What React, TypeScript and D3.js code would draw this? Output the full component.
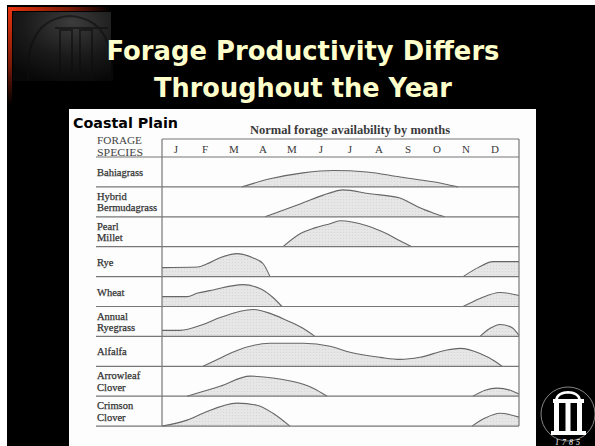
import React from "react";
import * as d3 from "d3";

const titleLines = ["Forage Productivity Differs", "Throughout the Year"];
const regionLabel = "Coastal Plain";
const chartCaption = "Normal forage availability by months";
const headerLines = ["FORAGE", "SPECIES"];
const months = ["J", "F", "M", "A", "M", "J", "J", "A", "S", "O", "N", "D"];
const speciesNames: string[][] = [
  ["Bahiagrass"],
  ["Hybrid", "Bermudagrass"],
  ["Pearl", "Millet"],
  ["Rye"],
  ["Wheat"],
  ["Annual", "Ryegrass"],
  ["Alfalfa"],
  ["Arrowleaf", "Clover"],
  ["Crimson", "Clover"],
];

// [month position (0 = 1 Jan, 12 = 31 Dec), relative availability 0..1]
const bahiagrass: number[][][] = [[[2.69, 0], [3.63, 0.27], [4.74, 0.47], [5.75, 0.55], [6.89, 0.5], [8.0, 0.33], [9.11, 0.17], [9.95, 0]]];
const bermudagrass: number[][][] = [[[3.46, 0], [4.64, 0.43], [5.65, 0.8], [6.08, 0.9], [6.99, 0.77], [8.0, 0.63], [8.34, 0.47], [8.67, 0.3], [9.11, 0.13], [9.51, 0]]];
const pearlMillet: number[][][] = [[[4.07, 0], [4.64, 0.43], [5.14, 0.63], [5.65, 0.77], [5.98, 0.87], [6.89, 0.7], [7.56, 0.43], [8.0, 0.2], [8.4, 0]]];
const rye: number[][][] = [
  [[0, 0.3], [1.2, 0.32], [1.5, 0.42], [1.95, 0.63], [2.52, 0.77], [3.05, 0.63], [3.4, 0.43], [3.63, 0]],
  [[10.12, 0], [10.62, 0.3], [11.13, 0.5], [11.5, 0.5], [12, 0.5]],
];
const wheat: number[][][] = [
  [[0, 0.33], [0.84, 0.33], [1.2, 0.45], [1.61, 0.53], [2.72, 0.73], [3.29, 0.6], [3.73, 0.3], [4.03, 0]],
  [[10.12, 0], [10.69, 0.27], [11.36, 0.47], [12, 0.37]],
];
const annualRyegrass: number[][][] = [
  [[0, 0.2], [0.6, 0.2], [1.38, 0.4], [1.95, 0.63], [3.06, 0.9], [3.63, 0.77], [4.2, 0.53], [4.74, 0.27], [5.14, 0]],
  [[10.69, 0], [11.03, 0.27], [11.36, 0.4], [11.76, 0.3], [12, 0.03]],
];
const alfalfa: number[][][] = [[[1.38, 0], [1.95, 0.27], [2.52, 0.53], [3.63, 0.77], [4.74, 0.77], [5.65, 0.67], [6.32, 0.47], [7.33, 0.3], [8.0, 0.23], [8.67, 0.3], [9.51, 0.53], [10.02, 0.6], [10.69, 0.43], [11.19, 0.17], [11.43, 0]]];
const arrowleafClover: number[][][] = [
  [[0.84, 0], [1.95, 0.33], [2.96, 0.67], [3.8, 0.6], [4.64, 0.43], [5.08, 0.27], [5.55, 0]],
  [[10.45, 0], [10.86, 0.2], [11.26, 0.27], [11.7, 0.2], [12, 0.07]],
];
const crimsonClover: number[][][] = [
  [[0, 0], [0.84, 0.2], [1.38, 0.43], [2.52, 0.77], [3.19, 0.7], [3.73, 0.43], [4.3, 0]],
  [[10.42, 0], [10.86, 0.27], [11.36, 0.43], [12, 0.3]],
];
const speciesCurves = [bahiagrass, bermudagrass, pearlMillet, rye, wheat, annualRyegrass, alfalfa, arrowleafClover, crimsonClover];

export default function App() {
  const W = 595, H = 446;
  const left = 162, right = 519, labelX = 97;
  const tableTop = 139, headerBottom = 157, rowH = 29.9;
  const x = d3.scaleLinear().domain([0, 12]).range([left, right]);
  const monthX = d3.scalePoint<number>().domain(d3.range(12)).range([176, 495]);
  const rowY = d3.scaleLinear().domain([0, speciesNames.length]).range([headerBottom, headerBottom + rowH * speciesNames.length]);
  const level = d3.scaleLinear().domain([0, 1]).range([0, rowH]);
  const bottom = rowY(speciesNames.length);

  const serif = "'Liberation Serif', 'Times New Roman', serif";
  const sans = "'DejaVu Sans', Verdana, sans-serif";

  return (
    <svg width={W} height={H} style={{ position: "absolute", left: 0, top: 0 }}>
      <defs>
        <linearGradient id="redTop" x1="0" x2="1" y1="0" y2="0">
          <stop offset="0" stopColor="#e8340e" />
          <stop offset="0.6" stopColor="#7a1a08" />
          <stop offset="1" stopColor="#000" />
        </linearGradient>
        <linearGradient id="redLeft" x1="0" x2="0" y1="0" y2="1">
          <stop offset="0" stopColor="#e8340e" />
          <stop offset="0.6" stopColor="#7a1a08" />
          <stop offset="1" stopColor="#000" />
        </linearGradient>
        <radialGradient id="ghost" cx="0.6" cy="0.15" r="0.9">
          <stop offset="0" stopColor="#3c3c3c" />
          <stop offset="0.55" stopColor="#1a1a1a" />
          <stop offset="1" stopColor="#080808" />
        </radialGradient>
        <pattern id="stipple" width="3" height="3" patternUnits="userSpaceOnUse">
          <rect width="3" height="3" fill="#e6e6e6" />
          <rect x="1" y="1" width="1" height="1" fill="#d6d6d6" />
        </pattern>
      </defs>
      <rect width={W} height={H} fill="#fff" />
      <rect x={7} y={5} width={W - 7} height={H - 5} fill="#000" />

      {/* corner decoration */}
      <rect x={13} y={12} width={98} height={69} fill="url(#ghost)" />
      <g stroke="#0e0e0e" strokeWidth={2} fill="none" opacity={0.6}>
        <path d="M28,80 C26,40 40,18 70,16 C100,18 114,40 112,80" />
        <line x1={55} y1={28} x2={108} y2={28} />
        <rect x={60} y={30} width={12} height={50} />
        <rect x={80} y={30} width={12} height={50} />
      </g>
      <rect x={8} y={7} width={102} height={4} fill="url(#redTop)" />
      <rect x={8} y={7} width={4} height={98} fill="url(#redLeft)" />

      {/* title */}
      {titleLines.map((t, i) => (
        <text key={i} x={303} y={[60, 97][i]} textAnchor="middle" fill="#ffffcc" fontFamily={sans} fontWeight="bold" fontSize={27}
          textLength={[393, 298][i]} lengthAdjust="spacingAndGlyphs">{t}</text>
      ))}

      {/* white picture area */}
      <rect x={69} y={109} width={467} height={H - 109} fill="#fdfdfd" />

      <text x={73} y={128} fontFamily={sans} fontWeight="bold" fontSize={14} fill="#000" textLength={105} lengthAdjust="spacingAndGlyphs">{regionLabel}</text>
      <text x={350} y={134} textAnchor="middle" fontFamily={serif} fontWeight="bold" fontSize={11.5} fill="#3a3a3a" textLength={200} lengthAdjust="spacingAndGlyphs">{chartCaption}</text>

      {headerLines.map((t, i) => (
        <text key={i} x={labelX} y={[144, 155.5][i]} fontFamily={serif} fontSize={9.5} fill="#444" textLength={i === 0 ? 45 : 46} lengthAdjust="spacingAndGlyphs">{t}</text>
      ))}
      {months.map((m, i) => (
        <text key={i} x={monthX(i)} y={153} textAnchor="middle" fontFamily={serif} fontSize={11} fill="#3a3a3a">{m}</text>
      ))}

      {/* curves */}
      {speciesCurves.map((segs, r) => {
        const base = rowY(r + 1);
        const area = d3.area<number[]>()
          .x((d) => x(d[0]))
          .y0(base)
          .y1((d) => base - level(d[1]))
          .curve(d3.curveMonotoneX);
        const line = d3.line<number[]>()
          .x((d) => x(d[0]))
          .y((d) => base - level(d[1]))
          .curve(d3.curveMonotoneX);
        return (
          <g key={r}>
            {segs.map((s, k) => (
              <g key={k}>
                <path d={area(s) || ""} fill="url(#stipple)" />
                <path d={line(s) || ""} fill="none" stroke="#666" strokeWidth={1.1} />
              </g>
            ))}
          </g>
        );
      })}

      {/* species labels */}
      {speciesNames.map((lines, r) => {
        const top = rowY(r);
        const ys = lines.length === 1 ? [top + 19] : [top + 13, top + 24.5];
        return lines.map((t, k) => (
          <text key={`${r}-${k}`} x={labelX} y={ys[k]} fontFamily={serif} fontSize={10.5} fill="#333" stroke="#333" strokeWidth={0.25}>{t}</text>
        ));
      })}

      {/* table lines */}
      <g stroke="#777" strokeWidth={1.2}>
        <line x1={left} y1={tableTop} x2={right} y2={tableTop} />
        <line x1={left} y1={tableTop} x2={left} y2={bottom} />
        <line x1={right} y1={tableTop} x2={right} y2={bottom} />
        {d3.range(speciesNames.length + 1).map((i) => (
          <line key={i} x1={labelX - 1} y1={rowY(i)} x2={right} y2={rowY(i)} />
        ))}
      </g>

      {/* logo */}
      <g>
        <circle cx={568} cy={414} r={27} fill="none" stroke="#bbb" strokeWidth={0.7} />
        <path d="M555,400 C556,388 580,388 581,400 Z" fill="#fff" />
        <path d="M558,399 C559,392 577,392 578,399 Z" fill="#000" />
        <rect x={553} y={399} width={31} height={4} fill="#fff" />
        <rect x={554} y={403} width={5} height={29} fill="#fff" />
        <rect x={565.5} y={403} width={5} height={29} fill="#fff" />
        <rect x={577} y={403} width={5} height={29} fill="#fff" />
        <rect x={551} y={431} width={35} height={4} fill="#fff" />
        <text x={569} y={445} textAnchor="middle" fontFamily={serif} fontStyle="italic" fontSize={8} fill="#fff" letterSpacing={3}>1785</text>
      </g>
    </svg>
  );
}
